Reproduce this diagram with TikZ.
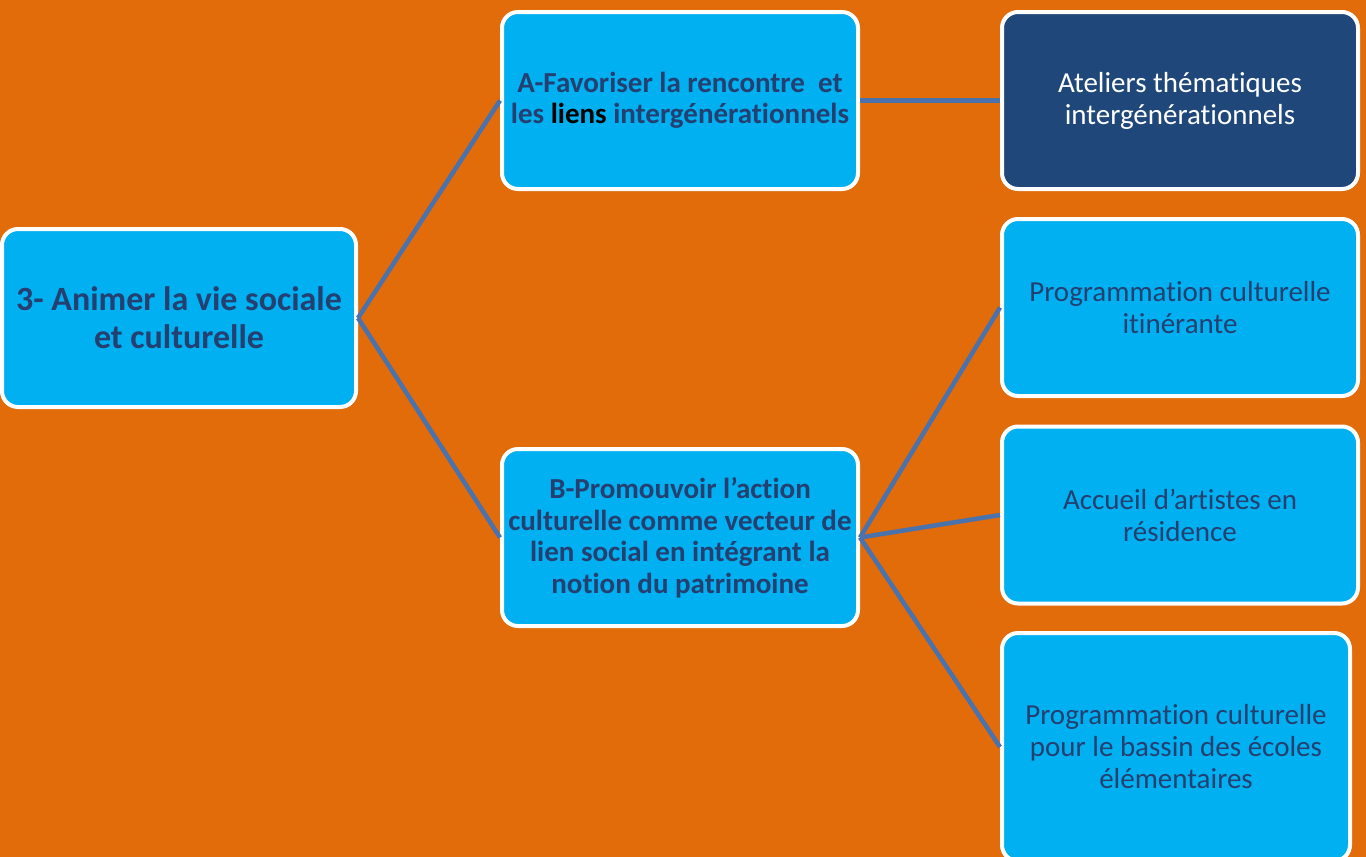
\documentclass[tikz,border=0pt]{standalone}
\usepackage{fontspec}
\setmainfont{Carlito}[Ligatures=NoCommon]
\usetikzlibrary{positioning}

\definecolor{bgorange}{HTML}{E26B0A}
\definecolor{boxcyan}{HTML}{00B0F0}
\definecolor{boxnavy}{HTML}{1F477A}
\definecolor{textnavy}{HTML}{253F70}
\definecolor{linkblue}{HTML}{4A72AC}

\begin{document}
\begin{tikzpicture}[
    x=1pt, y=-1pt,
    every node/.style={align=center},
    box/.style={rectangle, draw=white, line width=4pt, rounded corners=16pt, fill=boxcyan, text=textnavy, minimum width=356pt, minimum height=177pt, inner sep=0pt},
    rootbox/.style={box, minimum width=354pt, minimum height=178pt, font=\fontsize{34}{38}\selectfont\bfseries},
    subbox/.style={box, font=\fontsize{29}{31.5}\selectfont\bfseries},
    leafbox/.style={box, font=\fontsize{29}{32}\selectfont},
    darkleaf/.style={leafbox, fill=boxnavy, text=white},
    link/.style={draw=linkblue, line width=4.5pt}
]
    % Background
    \fill[bgorange] (0,0) rectangle (1366,857);
    \useasboundingbox (0,0) rectangle (1366,857);

    % Main objective
    \node[rootbox] (root) at (179,318) {3- Animer la vie sociale\\et culturelle};

    % Sub-objectives
    \node[subbox] (subA) at (680,100.5) {A-Favoriser la rencontre\ \ et\\les {\color{black}liens} intergénérationnels};
    \node[subbox] (subB) at (680,537.5) {B-Promouvoir l’action\\culturelle comme vecteur de\\lien social en intégrant la\\notion du patrimoine};

    % Actions
    \node[darkleaf] (act1) at (1180,100.5) {Ateliers thématiques\\intergénérationnels};
    \node[leafbox] (act2) at (1180,307.5) {Programmation culturelle\\itinérante};
    \node[leafbox] (act3) at (1180,515) {Accueil d’artistes en\\résidence};
    \node[leafbox, minimum width=348pt, minimum height=228pt] (act4) at (1176,747) {Programmation culturelle\\pour le bassin des écoles\\élémentaires};

    % Links
    \draw[link] (root.east) -- (subA.west);
    \draw[link] (root.east) -- (subB.west);
    \draw[link] (subA.east) -- (act1.west);
    \draw[link] (subB.east) -- (act2.west);
    \draw[link] (subB.east) -- (act3.west);
    \draw[link] (subB.east) -- (act4.west);
\end{tikzpicture}
\end{document}
